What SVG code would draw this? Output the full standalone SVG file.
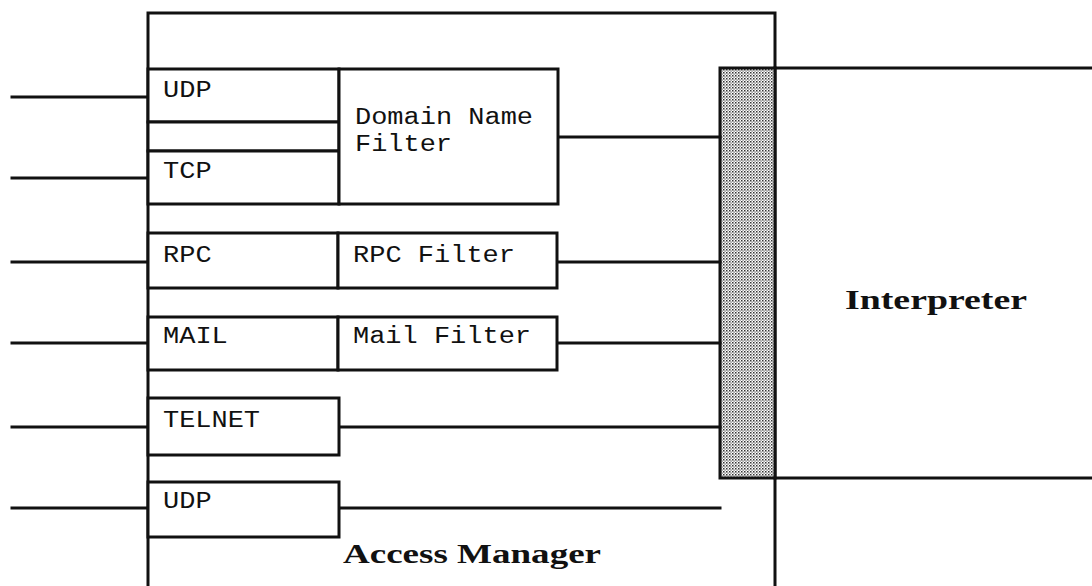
<svg xmlns="http://www.w3.org/2000/svg" width="1092" height="586" viewBox="0 0 1092 586">
<style>
.ln{stroke:#111;stroke-width:3;fill:none;stroke-linecap:square}
.bx{stroke:#111;stroke-width:3;fill:#fff}
.mono{font-family:"Liberation Mono","Courier New",monospace;font-size:23px;fill:#111}
.big{font-family:"Liberation Serif","Times New Roman",serif;font-weight:bold;font-size:27px;fill:#111}
</style>
<defs>
<pattern id="dots" width="3" height="3" patternUnits="userSpaceOnUse">
<rect width="3" height="3" fill="#fff"/>
<rect x="0" y="0" width="1.5" height="1.5" fill="#333"/>
<rect x="1.5" y="1.5" width="1.2" height="1.2" fill="#555"/>
</pattern>
</defs>
<rect width="1092" height="586" fill="#fff"/>
<g id="access-manager">
<path class="ln" d="M148,586 V13 H775 V586"/>
<text class="big" x="343" y="563" textLength="258" lengthAdjust="spacingAndGlyphs">Access Manager</text>
</g>
<g id="interpreter">
<path class="ln" d="M775,68 H1092 M775,478 H1092"/>
<text class="big" x="845" y="309" textLength="182" lengthAdjust="spacingAndGlyphs">Interpreter</text>
</g>
<g id="bus">
<rect x="720" y="68" width="55" height="410" fill="url(#dots)" stroke="#111" stroke-width="3"/>
</g>
<g id="connectors">
<path class="ln" d="M12,97 H148 M12,178 H148 M12,262 H148 M12,343 H148 M12,427 H148 M12,508 H148"/>
<path class="ln" d="M558,137 H720 M557,262 H720 M557,343 H720 M339,427 H720 M339,508 H720"/>
</g>
<g id="udp1">
<rect class="bx" x="148" y="69" width="191" height="53"/>
<text class="mono" x="163" y="97" textLength="48.6" lengthAdjust="spacingAndGlyphs">UDP</text>
</g>
<g id="udp-tcp-gap">
<rect class="bx" x="148" y="122" width="191" height="29"/>
</g>
<g id="tcp">
<rect class="bx" x="148" y="151" width="191" height="53"/>
<text class="mono" x="163" y="178" textLength="48.6" lengthAdjust="spacingAndGlyphs">TCP</text>
</g>
<g id="domain-name-filter">
<rect class="bx" x="339" y="69" width="219" height="135"/>
<text class="mono" x="355" y="124" textLength="178" lengthAdjust="spacingAndGlyphs">Domain Name</text>
<text class="mono" x="355" y="151" textLength="97" lengthAdjust="spacingAndGlyphs">Filter</text>
</g>
<g id="rpc">
<rect class="bx" x="148" y="233" width="190" height="55"/>
<text class="mono" x="163" y="262" textLength="48.6" lengthAdjust="spacingAndGlyphs">RPC</text>
</g>
<g id="rpc-filter">
<rect class="bx" x="338" y="233" width="219" height="55"/>
<text class="mono" x="353" y="262" textLength="162" lengthAdjust="spacingAndGlyphs">RPC Filter</text>
</g>
<g id="mail">
<rect class="bx" x="148" y="317" width="190" height="53"/>
<text class="mono" x="163" y="343" textLength="64.8" lengthAdjust="spacingAndGlyphs">MAIL</text>
</g>
<g id="mail-filter">
<rect class="bx" x="338" y="317" width="219" height="53"/>
<text class="mono" x="353" y="343" textLength="178" lengthAdjust="spacingAndGlyphs">Mail Filter</text>
</g>
<g id="telnet">
<rect class="bx" x="148" y="398" width="191" height="57"/>
<text class="mono" x="163" y="427" textLength="97" lengthAdjust="spacingAndGlyphs">TELNET</text>
</g>
<g id="udp2">
<rect class="bx" x="148" y="482" width="191" height="55"/>
<text class="mono" x="163" y="508" textLength="48.6" lengthAdjust="spacingAndGlyphs">UDP</text>
</g>
</svg>
